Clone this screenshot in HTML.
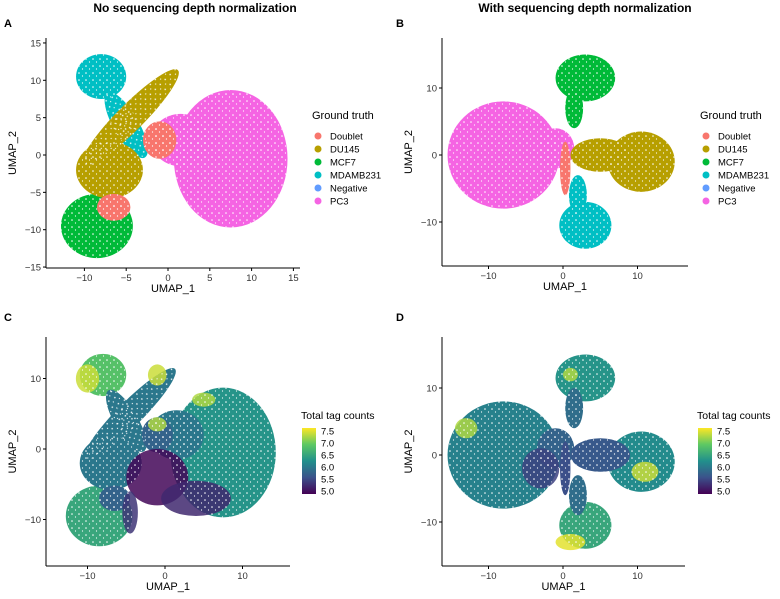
<!DOCTYPE html>
<html><head><meta charset="utf-8"><style>
body{margin:0;background:#fff;font-family:"Liberation Sans",sans-serif}
svg text{font-family:"Liberation Sans",sans-serif}
</style></head><body>
<svg id="s" width="780" height="594" xmlns="http://www.w3.org/2000/svg">
<defs>
<linearGradient id="vir" x1="0" y1="1" x2="0" y2="0">
<stop offset="0" stop-color="#440154"/><stop offset="0.25" stop-color="#3b528b"/><stop offset="0.5" stop-color="#21908c"/><stop offset="0.75" stop-color="#5dc863"/><stop offset="1" stop-color="#fde725"/>
</linearGradient>
<pattern id="holes" width="7" height="7" patternUnits="userSpaceOnUse"><rect width="7" height="7" fill="none"/><circle cx="2" cy="3" r="0.8" fill="#fff"/><circle cx="5.5" cy="6" r="0.6" fill="#fff"/></pattern>
</defs>
<text x="195" y="12" font-size="12" font-weight="bold" text-anchor="middle">No sequencing depth normalization</text>
<text x="585" y="12" font-size="12" font-weight="bold" text-anchor="middle">With sequencing depth normalization</text>
<text x="4" y="27" font-size="11" font-weight="bold">A</text>
<text x="396" y="27" font-size="11" font-weight="bold">B</text>
<text x="4" y="321" font-size="11" font-weight="bold">C</text>
<text x="396" y="321" font-size="11" font-weight="bold">D</text>
</svg>
<script>
const NS="http://www.w3.org/2000/svg";
const svg=document.getElementById('s');
// cluster shapes in UMAP units: [label, cx, cy, rx, ry, rotationDeg]
const clustersA=[
 ["PC3",7.5,-0.5,6.8,9.2,0],["PC3",1.5,2,3.5,3.5,0],
 ["MDAMB231",-8,10.5,3,3,0],["MDAMB231",-5,4,1.5,5,-30],
 ["MCF7",-8.5,-9.5,4.3,4.3,0],
 ["DU145",-7,-2,4,3.8,0],["DU145",-4.5,5,1.6,9,45],
 ["Doublet",-6.5,-7,2,1.8,0],["Doublet",-1,2,2,2.5,0]];
const clustersB=[
 ["PC3",-8,0,7.5,8,0],["PC3",-1,1,2.5,3,0],
 ["MCF7",3,11.5,4,3.5,0],["MCF7",1.5,7,1.2,3,0],
 ["DU145",10.5,-1,4.5,4.5,0],["DU145",5,0,4,2.5,0],
 ["MDAMB231",3,-10.5,3.5,3.5,0],["MDAMB231",2,-6,1.2,3,0],
 ["Doublet",0.3,-2,0.7,4,0]];
const legendLabels=["Doublet","DU145","MCF7","MDAMB231","Negative","PC3"];
const legendColors=["#F8766D","#B79F00","#00BA38","#00BFC4","#619CFF","#F564E3"];
// total tag count values per cluster shape (log scale 5.0-7.5)
const countsC=[6.3,6.0,6.8,6.0,6.5,6.0,6.0,5.8,5.8];
const countsD=[6.1,5.8,6.3,5.9,6.2,5.7,6.5,5.9,5.6];
// extra regions: [x, y, rx, ry, value]
const spotsC=[[-1,-4,4,4,5.05],[4,-7,4.5,2.5,5.3],[-4.5,-9,1,3,5.4],[-10,10,1.5,2,7.3],[-1,10.5,1.2,1.5,7.3],[5,7,1.5,1,7.2],[-1,3.5,1.2,1,7.2]];
const spotsD=[[-13,4,1.5,1.5,7.2],[11,-2.5,1.8,1.5,7.3],[1,-13,2,1.2,7.4],[1,12,1,1,7.2],[-3,-2,2.5,3,5.5]];
const tickLabelsColor=[7.5,7.0,6.5,6.0,5.5,5.0];
function el(t,a,p){const e=document.createElementNS(NS,t);for(const k in a)e.setAttribute(k,a[k]);(p||svg).appendChild(e);return e;}
function vir(v){const t=Math.max(0,Math.min(1,(v-5)/2.5));
 const c=[[68,1,84],[59,82,139],[33,144,140],[93,200,99],[253,231,37]];
 const i=Math.min(3,Math.floor(t*4)),f=t*4-i;
 return "rgb("+c[i].map((a,j)=>Math.round(a+(c[i+1][j]-a)*f)).join(",")+")";}
function panel(o){
 const sx=v=>o.x0+v*o.kx, sy=v=>o.y0-v*o.ky;
 el('line',{x1:o.ax,y1:o.top,x2:o.ax,y2:o.ay,stroke:'#000','stroke-width':1});
 el('line',{x1:o.ax,y1:o.ay,x2:o.right,y2:o.ay,stroke:'#000','stroke-width':1});
 o.xt.forEach(v=>{el('line',{x1:sx(v),y1:o.ay,x2:sx(v),y2:o.ay+3,stroke:'#000'});
  const t=el('text',{x:sx(v),y:o.ay+13,'font-size':9.5,'text-anchor':'middle',fill:'#333'});t.textContent=v<0?'\u2212'+(-v):v;
  });
 o.yt.forEach(v=>{el('line',{x1:o.ax-3,y1:sy(v),x2:o.ax,y2:sy(v),stroke:'#000'});
  const t=el('text',{x:o.ax-5,y:sy(v)+3.5,'font-size':9.5,'text-anchor':'end',fill:'#333'});t.textContent=v<0?'\u2212'+(-v):v;
  });
 const xt=el('text',{x:(o.ax+o.right)/2,y:o.ay+24,'font-size':11,'text-anchor':'middle'});xt.textContent='UMAP_1';
 
 const cy=(o.top+o.ay)/2;
 const yt=el('text',{x:o.ax-30,y:cy,'font-size':11,'text-anchor':'middle',transform:'rotate(-90 '+(o.ax-30)+' '+cy+')'});yt.textContent='UMAP_2';
 
 const g=el('g',{});
 
 o.cl.forEach((c,i)=>{const col=o.vals?vir(o.vals[i]):legendColors[legendLabels.indexOf(c[0])];
  const e=el('ellipse',{cx:sx(c[1]),cy:sy(c[2]),rx:c[3]*o.kx,ry:c[4]*o.ky,fill:col,transform:'rotate('+c[5]+' '+sx(c[1])+' '+sy(c[2])+')'},g);
  });
 if(o.spots)o.spots.forEach(p=>{const e=el('ellipse',{cx:sx(p[0]),cy:sy(p[1]),rx:p[2]*o.kx,ry:p[3]*o.ky,fill:vir(p[4]),opacity:0.85},g);
  });
 o.cl.forEach(c=>{el('ellipse',{cx:sx(c[1]),cy:sy(c[2]),rx:c[3]*o.kx,ry:c[4]*o.ky,fill:'url(#holes)',transform:'rotate('+c[5]+' '+sx(c[1])+' '+sy(c[2])+')'},g);});
}
panel({ax:46,ay:268,top:38,right:300,x0:168,kx:8.36,y0:155,ky:7.47,xt:[-10,-5,0,5,10,15],yt:[15,10,5,0,-5,-10,-15],cl:clustersA});
panel({ax:442,ay:266,top:38,right:688,x0:563,kx:7.45,y0:155,ky:6.7,xt:[-10,0,10],yt:[10,0,-10],cl:clustersB});
panel({ax:46,ay:566,top:337,right:290,x0:165,kx:7.75,y0:449,ky:7.05,xt:[-10,0,10],yt:[10,0,-10],cl:clustersA,vals:countsC,spots:spotsC});
panel({ax:442,ay:566,top:337,right:685,x0:563,kx:7.45,y0:455,ky:6.7,xt:[-10,0,10],yt:[10,0,-10],cl:clustersB,vals:countsD,spots:spotsD});
function legend(x,y){const t=el('text',{x:x,y:y,'font-size':11});t.textContent='Ground truth';
 
 legendLabels.forEach((l,i)=>{const yy=y+17+i*13;
  const c=el('circle',{cx:x+6,cy:yy,r:3.5,fill:legendColors[i]});
  const tt=el('text',{x:x+18,y:yy+3.5,'font-size':9.5});tt.textContent=l;});}
legend(312,119);legend(700,119);
function cbar(x,y){const t=el('text',{x:x,y:y,'font-size':10.5});t.textContent='Total tag counts';
 
 const r=el('rect',{x:x+1,y:y+9,width:14,height:66,fill:'url(#vir)'});
 tickLabelsColor.forEach((v,i)=>{const yy=y+12+i*12;
  const tt=el('text',{x:x+20,y:yy+3.5,'font-size':9.5});tt.textContent=v.toFixed(1);});}
cbar(301,419);cbar(697,419);
</script>
</body></html>
